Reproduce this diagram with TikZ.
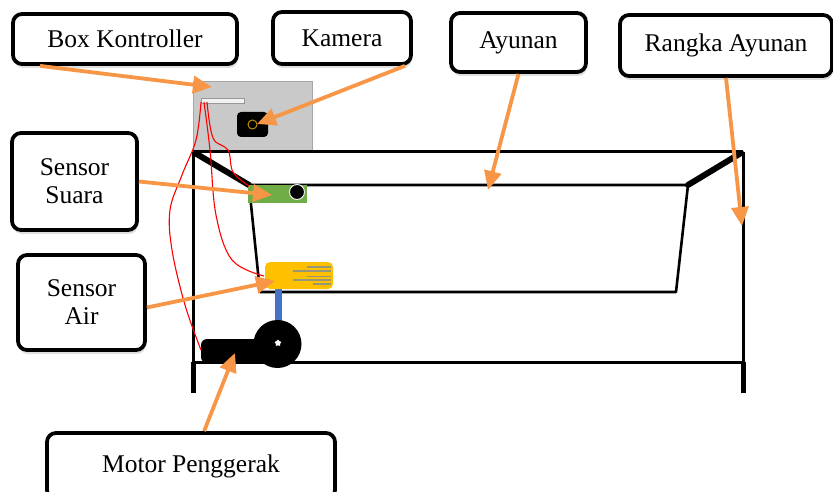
\documentclass[tikz,border=0pt]{standalone}
\usepackage{fontspec}
\setmainfont{Liberation Serif}
\usetikzlibrary{arrows.meta,shapes.geometric,shadows}

\definecolor{panah}{RGB}{247,150,70}
\definecolor{abu}{RGB}{201,201,201}
\definecolor{hijau}{RGB}{112,173,71}
\definecolor{kuning}{RGB}{255,192,0}
\definecolor{biru}{RGB}{68,114,196}
\definecolor{garis}{RGB}{150,150,120}

\tikzset{
    keterangan/.style={draw, fill=white, rounded corners=9pt, line width=3.8pt, align=center,
        inner sep=0pt, font=\fontsize{25.5}{28}\selectfont,
        drop shadow={shadow xshift=1pt, shadow yshift=-4pt, opacity=.25}},
    panahku/.style={->, draw=panah, line width=3.8pt},
    kabel/.style={red, line width=1.1pt},
    rangka/.style={line width=3pt},
}

\begin{document}
\begin{tikzpicture}[x=1pt, y=-1pt, >={Triangle[length=19pt,width=17pt]}]
    \useasboundingbox (0,0) rectangle (833,492);

    % Box kontroller + kamera
    \node [draw=gray!70, fill=abu, minimum width=119pt, minimum height=71pt, inner sep=0pt] (kotak) at (252.5,116.5) {};
    \node [draw=gray!80, fill=white!90!gray, minimum width=43pt, minimum height=5pt, inner sep=0pt]  (papan) at (222.5,100.5) {};
    \node [fill=black, rounded corners=4pt, minimum width=31pt, minimum height=25pt, inner sep=0pt] (kam) at (252.5,124.5) {};
    \draw [kuning!75!black, line width=1pt] (kam.center) circle (4.5pt);

    % Rangka ayunan
    \draw [rangka] (193,152) -- (743,152);
    \draw [rangka] (193,152) -- (193,362);
    \draw [rangka] (743,152) -- (743,362);
    \draw [rangka] (193,362) -- (743,362);
    \draw [line width=5pt] (193,362) -- (193,393);
    \draw [line width=5pt] (743,362) -- (743,393);

    % Ayunan
    \draw [line width=2.6pt, line join=round] (249,185) -- (688,185) -- (676,292) -- (260,292) -- cycle;
    \draw [line width=6pt, line cap=round] (195,153) -- (249,185);
    \draw [line width=6pt, line cap=round] (741,153) -- (688,185);

    % Sensor suara
    \node [fill=hijau, minimum width=59pt, minimum height=18pt, inner sep=0pt] (suaraunit) at (277.5,194) {};
    \draw [fill=black, draw=white!85!gray, line width=1pt] (297,192) circle (7.5pt);

    % Poros + motor
    \fill [biru] (275,289) rectangle (282,343);
    \fill [black, rounded corners=6pt] (201,339) rectangle (282,363);
    \fill [black] (277.5,344) circle (24pt);
    \node [star, star points=5, fill=white, minimum size=7pt, inner sep=0pt] (bintang) at (278,343) {};

    % Sensor air
    \node [fill=kuning, rounded corners=5pt, minimum width=68pt, minimum height=27pt, inner sep=0pt] (airunit) at (299,275.5) {};
    \foreach \xa/\yy in {307/267, 293/271, 307/276.5, 293/280, 313/284}
        \draw [garis, line width=1.2pt] (\xa,\yy) -- (331,\yy);

    % Kabel
    \draw [kabel] plot [smooth, tension=.6] coordinates {(201,102) (196,140) (182,175) (170,210) (172,250) (185,305) (201,350)};
    \draw [kabel] plot [smooth, tension=.6] coordinates {(204,102) (210,150) (216,215) (232,260) (264,276)};
    \draw [kabel] plot [smooth, tension=.6] coordinates {(207,102) (213,138) (228,150) (233,172) (249,186)};

    % Titik tujuan panah
    \coordinate (tKotak)  at (212,87);
    \coordinate (tKam)    at (257,124);
    \coordinate (tAyun)   at (488,190);
    \coordinate (tRangka) at (742,226);
    \coordinate (tSuara)  at (272,195);
    \coordinate (tAir)    at (275,281);
    \coordinate (tMotor)  at (235,353);

    % Keterangan
    \node [keterangan, minimum width=224pt, minimum height=50pt] (kontroller) at (125,39)     {Box Kontroller};
    \node [keterangan, minimum width=138pt, minimum height=52pt] (kamera)     at (342,38)     {Kamera};
    \node [keterangan, minimum width=135pt, minimum height=59pt] (ayunan)     at (518.5,42.5) {Ayunan};
    \node [keterangan, minimum width=212pt, minimum height=61pt] (rangka)     at (726,45.5)   {Rangka Ayunan};
    \node [keterangan, minimum width=125pt, minimum height=97pt] (suara)      at (74.5,181.5) {Sensor\\Suara};
    \node [keterangan, minimum width=127pt, minimum height=95pt] (air)        at (81.5,302.5) {Sensor\\Air};
    \node [keterangan, minimum width=288pt, minimum height=66pt] (motor)      at (191,466)    {Motor Penggerak};

    % Panah
    \draw [panahku] ([xshift=29pt]kontroller.south west) -- (tKotak);
    \draw [panahku] ([xshift=-8pt]kamera.south east)     -- (tKam);
    \draw [panahku] (ayunan.south)                       -- (tAyun);
    \draw [panahku] (rangka.south)                       -- (tRangka);
    \draw [panahku] (suara.east)                         -- (tSuara);
    \draw [panahku] ([yshift=-5pt]air.east)              -- (tAir);
    \draw [panahku] ([xshift=159pt]motor.north west)     -- (tMotor);

\end{tikzpicture}
\end{document}
